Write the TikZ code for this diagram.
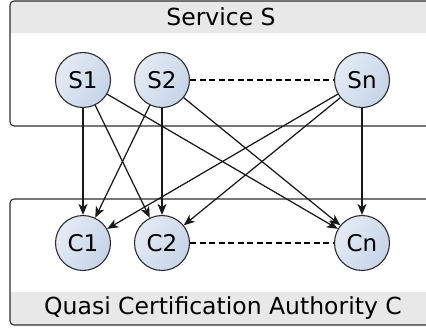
\documentclass[tikz,border=0pt]{standalone}
\usepackage{fontspec}
\setmainfont{DejaVu Sans}
\usetikzlibrary{arrows.meta}
\definecolor{bandgray}{HTML}{E8E8E8}
\definecolor{framegray}{HTML}{2E2E2E}
\definecolor{ballL}{HTML}{E4EBF5}
\definecolor{ballR}{HTML}{C6D4E8}
\tikzset{
  agent/.style={circle, draw=framegray, line width=1.1pt, minimum size=55pt, inner sep=0pt,
    left color=ballL, right color=ballR, shading angle=60,
    font=\fontsize{23}{25}\selectfont},
  link/.style={line width=1.25pt, draw=black!90, -{Stealth[length=11pt,width=9pt,inset=3pt]}},
  peer/.style={line width=1.2pt, dash pattern=on 6pt off 3.5pt},
  frame/.style={draw=framegray, line width=1.1pt, rounded corners=4pt},
  title/.style={font=\fontsize{23.5}{26}\selectfont, text=black}
}
\begin{document}
\begin{tikzpicture}[x=1pt,y=-1pt]
  \useasboundingbox (0,0) rectangle (426,333);
  \clip (0,0) rectangle (426,333);

  % Service S container
  \fill[bandgray, rounded corners=4pt] (10,1) rectangle (436,33);
  \fill[bandgray] (10,20) rectangle (436,33);
  \draw[frame] (10,1) rectangle (436,126);
  \node[title] (stitle) at (221,17) {Service S};

  % Quasi certification authority container
  \fill[bandgray, rounded corners=4pt] (10,292) rectangle (436,325);
  \fill[bandgray] (10,292) rectangle (436,310);
  \draw[frame] (10,199) rectangle (436,325);
  \node[title] (ctitle) at (223,308) {Quasi Certification Authority C};

  % Service nodes
  \node[agent] (s1) at (83,80) {S1};
  \node[agent] (s2) at (162,80) {S2};
  \node[agent] (sn) at (362,80) {Sn};

  % Authority nodes
  \node[agent] (c1) at (83,243) {C1};
  \node[agent] (c2) at (162,243) {C2};
  \node[agent] (cn) at (362,243) {Cn};

  % peers in the same group
  \draw[peer] (s2) -- (sn);
  \draw[peer] (c2) -- (cn);

  % every service talks to every authority
  \foreach \s in {s1,s2,sn}{
    \foreach \c in {c1,c2,cn}{
      \draw[link] (\s) -- (\c);
    }
  }
\end{tikzpicture}
\end{document}
